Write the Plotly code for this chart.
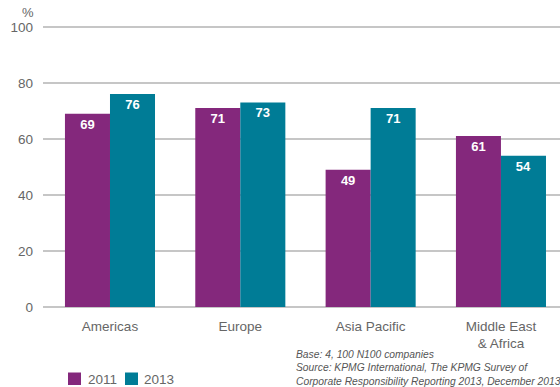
import plotly.graph_objects as go

categories = ["Americas", "Europe", "Asia Pacific", "Middle East<br>& Africa"]
values_2011 = [69, 71, 49, 61]
values_2013 = [76, 73, 71, 54]
series_names = ["2011", "2013"]
y_ticks = [0, 20, 40, 60, 80, 100]
source_lines = [
    "Base: 4, 100 N100 companies",
    "Source: KPMG International, The KPMG Survey of",
    "Corporate Responsibility Reporting 2013, December 2013",
]

PURPLE = "#84287C"
TEAL = "#007C96"
GRAY = "#666666"
FONT = "Liberation Sans, Arial, Helvetica, sans-serif"

# plot area in pixels (for placing legend/notes)
L, R, T, B = 43, 560, 24, 307
W, H = R - L, B - T


def px(x):
    return (x - L) / W


def py(y):
    return (B - y) / H


x_pos = list(range(len(categories)))
colors = [PURPLE, TEAL]

fig = go.Figure()
for name, vals, col in zip(series_names, [values_2011, values_2013], colors):
    fig.add_trace(go.Bar(
        name=name, x=x_pos, y=vals, marker=dict(color=col, line=dict(width=0)),
        text=[str(v) for v in vals], textposition="inside", insidetextanchor="end",
        textfont=dict(color="white", size=13, family=FONT, weight="bold"),
    ))

fig.update_layout(
    width=560, height=387,
    margin=dict(l=L, r=560 - R, t=T, b=387 - B),
    paper_bgcolor="white", plot_bgcolor="white",
    barmode="group", bargap=0.309, bargroupgap=0,
    font=dict(family=FONT, color=GRAY, size=13),
    showlegend=False,
    xaxis=dict(range=[-0.514, 3.453], tickvals=x_pos, ticktext=categories,
               showgrid=False, zeroline=False, showline=False, ticks="",
               ticklabelstandoff=9,
               tickfont=dict(size=13.5, color=GRAY)),
    yaxis=dict(range=[0, 101], tickvals=y_ticks, showgrid=True, gridcolor="#c6c6c6",
               gridwidth=1.5, zeroline=True, zerolinecolor="#c6c6c6", zerolinewidth=1.5,
               showline=False, ticks="", ticklabelstandoff=9,
               tickfont=dict(size=13.5, color=GRAY)),
)

fig.add_annotation(text="%", xref="paper", yref="y", x=px(28), y=100, yshift=14,
                   xanchor="center", yanchor="middle", showarrow=False,
                   font=dict(size=13, color=GRAY))

# legend drawn manually (square + label)
legend_sq_x = [68, 125]
legend_tx_x = [86, 142]
for name, col, sx, tx in zip(series_names, colors, legend_sq_x, legend_tx_x):
    fig.add_shape(type="rect", xref="paper", yref="paper",
                  x0=px(sx), x1=px(sx + 13), y0=py(385), y1=py(372.5),
                  fillcolor=col, line=dict(width=0))
    fig.add_annotation(text=name, xref="paper", yref="paper", x=px(tx), y=py(379),
                       xanchor="left", yanchor="middle", showarrow=False,
                       font=dict(size=13.5, color=GRAY))

fig.add_annotation(text="<br>".join(source_lines), xref="paper", yref="paper",
                   x=px(294), y=py(347), xanchor="left", yanchor="top",
                   align="left", showarrow=False,
                   font=dict(size=10.3, color="#555555", style="italic"))

fig.write_html("out.html")
